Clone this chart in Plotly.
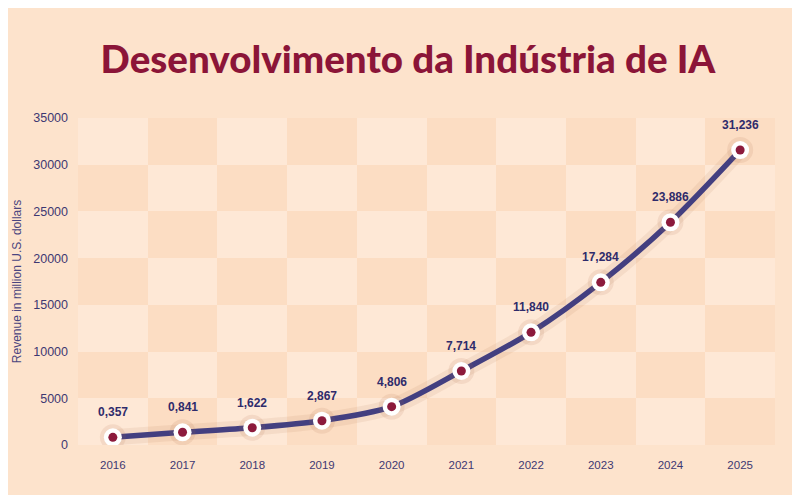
import plotly.graph_objects as go

years = [2016, 2017, 2018, 2019, 2020, 2021, 2022, 2023, 2024, 2025]
plot_values = [820, 1360, 1850, 2600, 4100, 7920, 12060, 17410, 23840, 31570]
value_labels = ["0,357", "0,841", "1,622", "2,867", "4,806", "7,714", "11,840", "17,284", "23,886", "31,236"]
y_ticks = [0, 5000, 10000, 15000, 20000, 25000, 30000, 35000]
y_tick_text = ["0", "5000", "10000", "15000", "20000", "25000", "30000", "35000"]
band_centers = [2500, 7500, 12500, 17500, 22500, 27500, 32500]

BG = "#fde3cc"
LIGHT = "#fee8d6"
DARK = "#fcddc3"
LINE = "#433f80"
DOT = "#8c1a3c"
TEXT = "#2f2b6b"
TICK = "#3d3872"

z = [[(i + j) % 2 for i in range(len(years))] for j in range(len(band_centers))]

fig = go.Figure()
fig.add_trace(go.Heatmap(
    x=years, y=band_centers, z=z,
    colorscale=[[0, LIGHT], [1, DARK]], showscale=False, hoverinfo="skip",
))
# soft shadow / glow under the line
fig.add_trace(go.Scatter(
    x=years, y=plot_values, mode="lines",
    line=dict(color="rgba(170,110,70,0.10)", width=16, shape="spline", smoothing=0.8),
    hoverinfo="skip", showlegend=False,
))
fig.add_trace(go.Scatter(
    x=years, y=plot_values, mode="lines",
    line=dict(color=LINE, width=5.5, shape="spline", smoothing=0.8),
    hoverinfo="skip", showlegend=False,
))
fig.add_trace(go.Scatter(
    x=years, y=plot_values, mode="markers",
    marker=dict(color="rgba(170,110,70,0.12)", size=26), showlegend=False, hoverinfo="skip",
))
fig.add_trace(go.Scatter(
    x=years, y=plot_values, mode="markers",
    marker=dict(color="white", size=18), showlegend=False, hoverinfo="skip",
))
fig.add_trace(go.Scatter(
    x=years, y=plot_values, mode="markers",
    marker=dict(color=DOT, size=9), showlegend=False,
))

for xv, yv, t in zip(years, plot_values, value_labels):
    fig.add_annotation(x=xv, y=yv, text=f"<b>{t}</b>", showarrow=False,
                       yshift=25, font=dict(family="Liberation Sans, Arial", size=12, color=TEXT))

fig.add_annotation(
    xref="paper", yref="paper", x=-0.088, y=0.5, xanchor="center", yanchor="middle",
    text="Revenue in million U.S. dollars", textangle=-90, showarrow=False,
    font=dict(family="Liberation Sans, Arial", size=12, color="#4a4580"),
)

fig.update_layout(
    width=800, height=495,
    paper_bgcolor=BG, plot_bgcolor=BG,
    margin=dict(l=69.5, r=33, t=110, b=58, autoexpand=False),
    showlegend=False,
    title=dict(
        text="Desenvolvimento da Indústria de IA",
        x=0.5, xanchor="center", y=0.895, yanchor="middle",
        font=dict(family="Lato", size=38.5, weight=900, color="#8b1538"),
    ),
    xaxis=dict(
        range=[2015.5, 2025.5], tickvals=years, showgrid=False, zeroline=False,
        showline=False, ticks="", automargin=False, ticklabelstandoff=11,
        tickfont=dict(family="Liberation Sans, Arial", size=11.5, color=TICK),
    ),
    yaxis=dict(
        range=[0, 35000], tickvals=y_ticks, ticktext=y_tick_text, showgrid=False, zeroline=False,
        showline=False, ticks="", ticklabelstandoff=9, automargin=False,
        tickfont=dict(family="Liberation Sans, Arial", size=12.5, color=TICK),
    ),
)

fig.write_html("out.html")
